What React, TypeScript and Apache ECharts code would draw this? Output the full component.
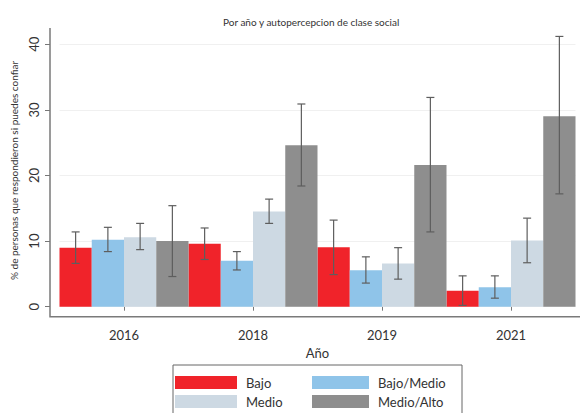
import React, { useEffect, useRef } from "react";
import * as echarts from "echarts";

const years = ["2016", "2018", "2019", "2021"];
const classNames = ["Bajo", "Bajo/Medio", "Medio", "Medio/Alto"];

const bajo = [9.0, 9.6, 9.05, 2.45];
const bajoLo = [6.6, 7.2, 4.9, 0.2];
const bajoHi = [11.4, 12.0, 13.2, 4.7];

const bajoMedio = [10.2, 7.0, 5.55, 2.95];
const bajoMedioLo = [8.4, 5.6, 3.6, 1.3];
const bajoMedioHi = [12.1, 8.4, 7.6, 4.7];

const medio = [10.6, 14.5, 6.6, 10.1];
const medioLo = [8.7, 12.7, 4.2, 6.7];
const medioHi = [12.7, 16.4, 9.0, 13.5];

const medioAlto = [10.0, 24.6, 21.6, 29.05];
const medioAltoLo = [4.6, 18.4, 11.4, 17.2];
const medioAltoHi = [15.4, 30.9, 31.9, 41.2];

const yTicks = [0, 10, 20, 30, 40];

const colors = ["#f0232a", "#8fc4e9", "#cdd9e3", "#8e8e8e"];
const FONT = "Lato";

export default function App() {
  const ref = useRef<HTMLDivElement>(null);
  useEffect(() => {
    if (!ref.current) return;
    const chart = echarts.init(ref.current, null, { renderer: "svg" });
    const values = [bajo, bajoMedio, medio, medioAlto];
    const los = [bajoLo, bajoMedioLo, medioLo, medioAltoLo];
    const his = [bajoHi, bajoMedioHi, medioHi, medioAltoHi];

    const barSeries = classNames.map((name, i) => ({
      name,
      type: "bar",
      data: values[i],
      barGap: "0%",
      barCategoryGap: "0%",
      itemStyle: { color: colors[i] },
      z: 2,
    }));

    const errSeries = classNames.map((name, i) => ({
      name: name + " IC",
      type: "custom",
      z: 3,
      silent: true,
      data: years.map((_, k) => [k, los[i][k], his[i][k]]),
      encode: { x: 0, y: [1, 2] },
      renderItem: (params: any, api: any) => {
        const cat = api.value(0);
        const lo = api.value(1);
        const hi = api.value(2);
        const bandW = api.size([1, 0])[0];
        const barW = bandW / 4;
        const pLo = api.coord([cat, lo]);
        const pHi = api.coord([cat, hi]);
        const cx = pLo[0] + (i - 1.5) * barW;
        const cap = 4;
        const style = { stroke: "#5e5e5e", lineWidth: 1.2 };
        return {
          type: "group",
          children: [
            { type: "line", shape: { x1: cx, y1: pLo[1], x2: cx, y2: pHi[1] }, style },
            { type: "line", shape: { x1: cx - cap, y1: pLo[1], x2: cx + cap, y2: pLo[1] }, style },
            { type: "line", shape: { x1: cx - cap, y1: pHi[1], x2: cx + cap, y2: pHi[1] }, style },
          ],
        };
      },
    }));

    const legendCommon = {
      orient: "vertical",
      align: "left",
      itemHeight: 13,
      itemGap: 6,
      padding: 0,
      height: 40,
      icon: "rect",
      textStyle: { fontFamily: FONT, fontSize: 13, color: "#333", padding: [0, 0, 0, 4] },
    };

    chart.setOption({
      animation: false,
      backgroundColor: "#ffffff",
      title: {
        text: "Por año y autopercepcion de clase social",
        left: 218,
        top: 12,
        textStyle: { fontFamily: FONT, fontSize: 10, fontWeight: "normal", color: "#333" },
      },
      legend: [
        { ...legendCommon, itemWidth: 62, data: ["Bajo", "Medio"], left: 175, top: 376 },
        { ...legendCommon, itemWidth: 57, data: ["Bajo/Medio", "Medio/Alto"], left: 312, top: 376 },
      ],
      grid: { left: 59.5, right: 4.5, top: 44.3, bottom: 106.3, containLabel: false },
      xAxis: {
        type: "category",
        data: years,
        offset: 10,
        name: "Año",
        nameLocation: "middle",
        nameGap: 28,
        nameTextStyle: { fontFamily: FONT, fontSize: 13, color: "#333" },
        axisLine: { show: false },
        axisTick: { show: true, alignWithLabel: true, length: 4, lineStyle: { color: "#777" } },
        axisLabel: { fontFamily: FONT, fontSize: 13, color: "#333", margin: 12 },
        splitLine: { show: false },
      },
      yAxis: {
        type: "value",
        min: yTicks[0],
        max: yTicks[yTicks.length - 1],
        interval: 10,
        offset: 9.5,
        name: "% de personas que respondieron si puedes confiar",
        nameLocation: "middle",
        nameRotate: 90,
        nameGap: 28,
        nameTextStyle: { fontFamily: FONT, fontSize: 10, color: "#333", padding: [0, 0, 0, 10] },
        axisLine: { show: false },
        axisTick: { show: true, length: 5, lineStyle: { color: "#777" } },
        axisLabel: { fontFamily: FONT, fontSize: 13, color: "#333", rotate: 90, margin: 10 },
        splitLine: { show: true, lineStyle: { color: "#f0f0f0", width: 1 } },
      },
      graphic: [
        {
          type: "polyline",
          shape: { points: [[50, 28], [50, 316.7], [580, 316.7]] },
          style: { stroke: "#7a7a7a", lineWidth: 1.5, fill: "none" },
          z: 10,
        },
        {
          type: "rect",
          shape: { x: 173, y: 365, width: 289, height: 70 },
          style: { stroke: "#666", lineWidth: 1, fill: "none" },
          z: 10,
        },
      ],
      series: [...barSeries, ...errSeries],
    });
    return () => chart.dispose();
  }, []);
  return (
    <div
      ref={ref}
      style={{ position: "absolute", left: 0, top: 0, width: 580, height: 413 }}
    />
  );
}
